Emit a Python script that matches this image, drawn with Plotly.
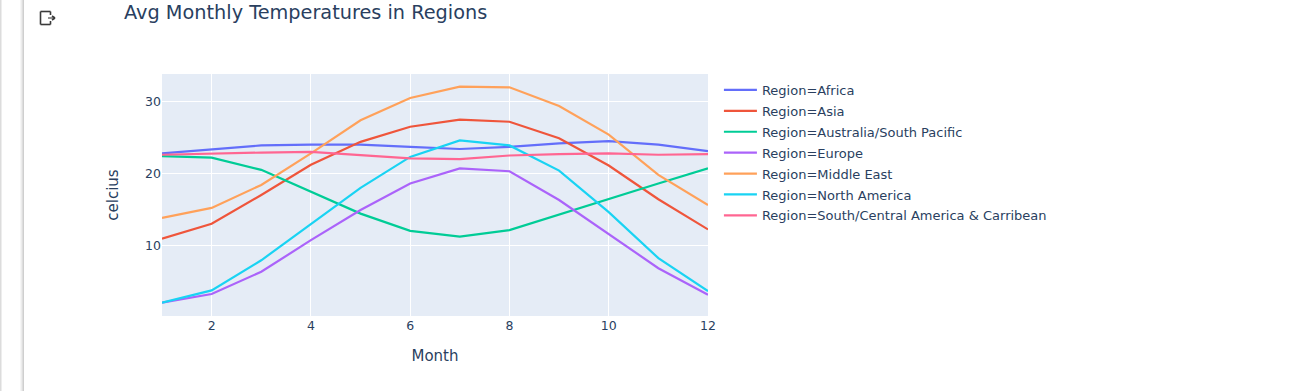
import plotly.graph_objects as go

months = [1, 2, 3, 4, 5, 6, 7, 8, 9, 10, 11, 12]
africa = [22.8, 23.4, 23.9, 24.0, 24.0, 23.7, 23.4, 23.7, 24.2, 24.5, 24.0, 23.1]
asia = [10.9, 13.0, 17.0, 21.2, 24.4, 26.5, 27.5, 27.2, 24.9, 21.1, 16.4, 12.2]
australia = [22.4, 22.2, 20.5, 17.4, 14.4, 12.0, 11.2, 12.1, 14.3, 16.5, 18.6, 20.7]
europe = [2.0, 3.2, 6.3, 10.7, 14.9, 18.6, 20.7, 20.3, 16.3, 11.6, 6.8, 3.1]
middle_east = [13.8, 15.2, 18.4, 22.8, 27.4, 30.5, 32.1, 32.0, 29.4, 25.4, 19.8, 15.6]
north_america = [2.0, 3.7, 7.9, 13.0, 18.0, 22.3, 24.6, 23.9, 20.4, 14.6, 8.2, 3.6]
south_central = [22.6, 22.8, 22.9, 23.0, 22.6, 22.1, 22.0, 22.5, 22.7, 22.8, 22.6, 22.7]

names = ["Region=Africa", "Region=Asia", "Region=Australia/South Pacific", "Region=Europe",
         "Region=Middle East", "Region=North America", "Region=South/Central America & Carribean"]
series = [africa, asia, australia, europe, middle_east, north_america, south_central]
colors = ["#636efa", "#EF553B", "#00cc96", "#ab63fa", "#FFA15A", "#19d3f3", "#FF6692"]

W, H = 1300, 391
L, R, T, B = 162, 708, 74, 316
FONT = "DejaVu Sans"


def px(x):
    return (x - L) / (R - L)


def py(y):
    return (B - y) / (B - T)


def rect(x0, x1, color):
    return dict(type="rect", xref="paper", yref="paper", x0=px(x0), x1=px(x1), y0=py(H), y1=py(0),
                fillcolor=color, line=dict(width=0), layer="below")


def seg(x0, y0, x1, y1, color="#3a3a3a", width=1.6):
    return dict(type="line", xref="paper", yref="paper", x0=px(x0), y0=py(y0), x1=px(x1), y1=py(y1),
                line=dict(color=color, width=width))


chrome = [rect(0, 1.5, "#dcdcdc"), rect(20, 21, "#f6f6f6"), rect(21, 22, "#ececec"),
          rect(22, 23, "#dedede"), rect(23, 24, "#cfcfcf")]
icon = [seg(40.5, 11.5, 50.5, 11.5), seg(40.5, 11.5, 40.5, 24.5), seg(40.5, 24.5, 50.5, 24.5),
        seg(50.5, 11.5, 50.5, 15), seg(50.5, 21, 50.5, 24.5),
        seg(48, 18, 54, 18, color="#777777"), seg(52, 16, 55, 18), seg(52, 20, 55, 18)]

fig = go.Figure()
for n, s, c in zip(names, series, colors):
    fig.add_trace(go.Scatter(x=months, y=s, mode="lines", name=n, legendgroup=n,
                             line=dict(color=c, width=2.2)))

fig.update_layout(
    template="plotly",
    width=W, height=H,
    autosize=False,
    margin=dict(l=L, r=W - R, t=T, b=H - B),
    font=dict(family=FONT, color="#2a3f5f", size=13),
    title=dict(text="Avg Monthly Temperatures in Regions", x=124 / W, xanchor="left",
               y=1 - 12 / H, yanchor="middle", font=dict(size=19.3)),
    xaxis=dict(title=dict(text="Month", standoff=18, font=dict(size=15)), range=[1, 12],
               tickvals=[2, 4, 6, 8, 10, 12], tickfont=dict(size=12.5), gridwidth=1.2),
    yaxis=dict(title=dict(text="celcius", standoff=22, font=dict(size=15)), range=[0.14, 33.85],
               tickvals=[10, 20, 30], tickfont=dict(size=12.5), zeroline=False, gridwidth=1.2),
    legend=dict(x=1.02, y=1 - 1 / (B - T), xanchor="left", yanchor="top", font=dict(size=13),
                itemwidth=33, tracegroupgap=1),
    shapes=chrome + icon,
)
fig.write_html("out.html", config={"displayModeBar": False},
               post_script="document.body.style.margin='0';")
